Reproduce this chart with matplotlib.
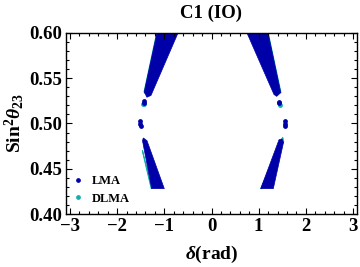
import matplotlib
matplotlib.use("Agg")
import matplotlib.pyplot as plt
from matplotlib.ticker import MultipleLocator, FormatStrFormatter
from matplotlib.lines import Line2D

plt.rcParams['font.family'] = ['Liberation Serif', 'DejaVu Serif']
plt.rcParams['font.weight'] = 'bold'
plt.rcParams['mathtext.fontset'] = 'custom'
plt.rcParams['mathtext.rm'] = 'Liberation Serif:bold'
plt.rcParams['mathtext.bf'] = 'Liberation Serif:bold'
plt.rcParams['mathtext.it'] = 'Liberation Serif:italic:bold'

# band outlines (delta, sin^2 theta23)
lma_bands = [
    # upper left
    ([-1.156, -0.710, -1.283, -1.370, -1.425], [0.600, 0.600, 0.531, 0.529, 0.535]),
    # upper right
    ([0.752, 1.198, 1.467, 1.382, 1.325], [0.600, 0.600, 0.534, 0.530, 0.532]),
    # lower left
    ([-1.446, -1.368, -1.001, -1.268, -1.463], [0.484, 0.481, 0.428, 0.428, 0.481]),
    # lower right
    ([1.494, 1.526, 1.310, 1.043, 1.431], [0.483, 0.479, 0.428, 0.428, 0.482]),
]
# thin DLMA slivers along the outer edges
dlma_bands = [
    ([-1.165, -1.150, -1.415, -1.432], [0.600, 0.600, 0.533, 0.535]),
    ([1.185, 1.205, 1.475, 1.462], [0.600, 0.600, 0.534, 0.534]),
    ([-1.458, -1.470, -1.280, -1.262], [0.470, 0.470, 0.428, 0.428]),
    ([1.510, 1.532, 1.070, 1.040], [0.485, 0.480, 0.428, 0.428]),
]

# isolated points
lma_x = [-1.421, -1.430, -1.516, -1.516, -1.501, 1.441, 1.441, 1.558, 1.558, 1.565]
lma_y = [0.5243, 0.5225, 0.5022, 0.4994, 0.4972, 0.5221, 0.5240, 0.5028, 0.4989, 0.4967]
dlma_x = [-1.438, -1.452, 1.455]
dlma_y = [0.5216, 0.5218, 0.5205]

blue = '#0000a8'
cyan = '#12adad'

fig = plt.figure(figsize=(3.6, 2.67), dpi=100)
ax = fig.add_axes([0.1833, 0.1985, 0.8078, 0.678])

for xs, ys in dlma_bands:
    ax.fill(xs, ys, color=cyan, lw=0.6, ec=cyan)
for xs, ys in lma_bands:
    ax.fill(xs, ys, color=blue, lw=0.5, ec=blue)
ax.scatter(dlma_x, dlma_y, s=12, color=cyan, lw=0, zorder=2)
ax.scatter(lma_x, lma_y, s=12, color=blue, lw=0, zorder=3)

ax.set_xlim(-3.085, 3.08)
ax.set_ylim(0.40, 0.60)
ax.xaxis.set_major_locator(MultipleLocator(1))
ax.xaxis.set_minor_locator(MultipleLocator(0.2))
ax.yaxis.set_major_locator(MultipleLocator(0.05))
ax.yaxis.set_minor_locator(MultipleLocator(0.01))
ax.yaxis.set_major_formatter(FormatStrFormatter('%.2f'))
ax.tick_params(which='both', direction='in', top=True, right=True, width=0.8)
ax.tick_params(which='major', length=4, labelsize=13.5, pad=3)
ax.tick_params(which='minor', length=2)
for s in ax.spines.values():
    s.set_linewidth(1.0)

ax.set_title('C1 (IO)', fontsize=13.5, fontweight='bold', pad=11)
ax.set_xlabel(r'$\delta$(rad)', fontsize=14, fontweight='bold', labelpad=6)
ax.set_ylabel(r'$\mathrm{Sin}^{2}\theta_{23}$', fontsize=14, fontweight='bold', labelpad=2)

handles = [
    Line2D([], [], ls='none', marker='o', ms=2.4, color=blue, label='LMA'),
    Line2D([], [], ls='none', marker='o', ms=2.4, color=cyan, label='DLMA'),
]
ax.legend(handles=handles, loc='lower left', frameon=False,
          handlelength=0.8, handletextpad=0.7, labelspacing=0.45,
          borderaxespad=0.2, bbox_to_anchor=(0.0, 0.01),
          prop={'weight': 'bold', 'size': 9})

fig.savefig('out.png', dpi=100)
